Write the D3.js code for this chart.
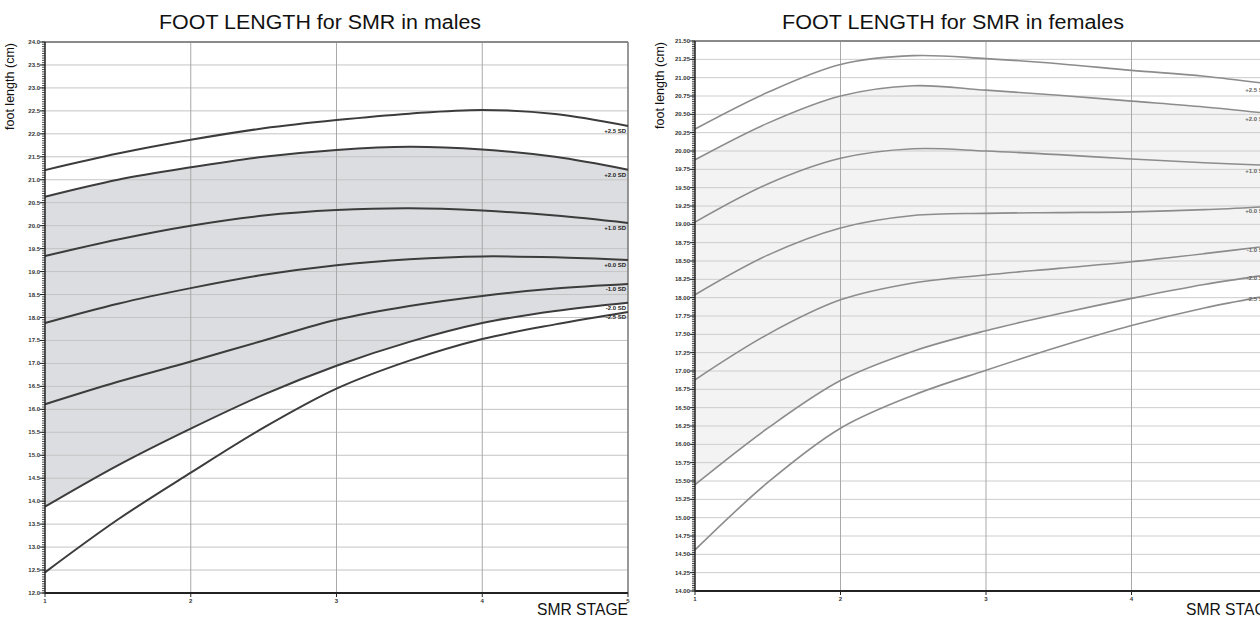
<!DOCTYPE html>
<html>
<head>
<meta charset="utf-8">
<script src="https://cdn.jsdelivr.net/npm/d3@7"></script>
<style>
  body { margin: 0; background: #fff; }
  svg { display: block; font-family: "Liberation Sans", Arial, sans-serif; }
</style>
</head>
<body>
<svg id="chart" width="1260" height="619"></svg>
<script>
const smrStages = [1, 1.5, 2, 2.5, 3, 3.5, 4, 4.5, 5];
const stageTicks = [1, 2, 3, 4, 5];
const sdLabels = ["+2.5 SD", "+2.0 SD", "+1.0 SD", "+0.0 SD", "-1.0 SD", "-2.0 SD", "-2.5 SD"];

// males, foot length (cm)
const maleP25 = [21.21, 21.57, 21.87, 22.12, 22.30, 22.44, 22.52, 22.43, 22.17];
const maleP20 = [20.63, 21.00, 21.27, 21.50, 21.65, 21.72, 21.66, 21.50, 21.22];
const maleP10 = [19.34, 19.70, 20.00, 20.22, 20.34, 20.38, 20.33, 20.22, 20.06];
const maleM00 = [17.88, 18.30, 18.64, 18.93, 19.14, 19.27, 19.33, 19.31, 19.25];
const maleN10 = [16.11, 16.60, 17.04, 17.50, 17.95, 18.25, 18.47, 18.63, 18.73];
const maleN20 = [13.88, 14.78, 15.58, 16.32, 16.95, 17.47, 17.88, 18.14, 18.32];
const maleN25 = [12.45, 13.60, 14.62, 15.60, 16.45, 17.06, 17.53, 17.85, 18.12];

// females, foot length (cm)
const femaleP25 = [20.30, 20.80, 21.18, 21.30, 21.26, 21.19, 21.10, 21.02, 20.90];
const femaleP20 = [19.88, 20.38, 20.75, 20.89, 20.83, 20.76, 20.68, 20.60, 20.50];
const femaleP10 = [19.03, 19.55, 19.90, 20.03, 20.00, 19.95, 19.89, 19.84, 19.80];
const femaleM00 = [18.04, 18.58, 18.95, 19.12, 19.15, 19.16, 19.17, 19.20, 19.25];
const femaleN10 = [16.88, 17.50, 17.97, 18.20, 18.31, 18.40, 18.49, 18.60, 18.72];
const femaleN20 = [15.45, 16.22, 16.87, 17.27, 17.55, 17.78, 17.99, 18.18, 18.33];
const femaleN25 = [14.56, 15.48, 16.22, 16.67, 17.01, 17.33, 17.62, 17.86, 18.05];

const svg = d3.select('#chart')

function drawPanel(opt) {
    let g = svg.append('g')
    let x = d3.scaleLinear().domain([1, 5]).range([opt.left, opt.right])
    let y = d3.scaleLinear().domain(opt.yDomain).range([opt.bottom, opt.top])

    let majors = d3.range(opt.yDomain[0], opt.yDomain[1] + 1e-9, opt.yStep)
    let minors = d3.range(opt.yDomain[0], opt.yDomain[1] + 1e-9, opt.yMinor)

    // shaded band between +2 and -2 SD
    let band = d3.area()
        .x((d, i) => x(smrStages[i]))
        .y0((d, i) => y(opt.series[5][i]))
        .y1(d => y(d))
        .curve(d3.curveCatmullRom.alpha(0.5))
    g.append('path')
        .datum(opt.series[1])
        .attr('d', band)
        .attr('fill', opt.bandColor)

    // horizontal grid
    g.append('g').selectAll('line')
        .data(majors.slice(1, -1))
        .enter().append('line')
        .attr('x1', opt.left).attr('x2', opt.right)
        .attr('y1', d => y(d)).attr('y2', d => y(d))
        .attr('stroke', opt.gridColor)
        .attr('stroke-width', 1)

    // vertical grid
    g.append('g').selectAll('line')
        .data(stageTicks.slice(1, -1))
        .enter().append('line')
        .attr('x1', d => x(d)).attr('x2', d => x(d))
        .attr('y1', opt.top).attr('y2', opt.bottom)
        .attr('stroke', '#a9a9a9')
        .attr('stroke-width', 1)

    // frame: top and right
    g.append('line')
        .attr('x1', opt.left).attr('x2', opt.right)
        .attr('y1', opt.top).attr('y2', opt.top)
        .attr('stroke', '#8a8a8a').attr('stroke-width', 2)
    g.append('line')
        .attr('x1', opt.right).attr('x2', opt.right)
        .attr('y1', opt.top).attr('y2', opt.bottom)
        .attr('stroke', '#777').attr('stroke-width', 1.5)

    // curves
    let line = d3.line()
        .x((d, i) => x(smrStages[i]))
        .y(d => y(d))
        .curve(d3.curveCatmullRom.alpha(0.5))
    g.append('g').selectAll('path')
        .data(opt.series)
        .enter().append('path')
        .attr('d', line)
        .attr('fill', 'none')
        .attr('stroke', opt.lineColor)
        .attr('stroke-width', opt.lineWidth)

    // curve labels at the right end
    g.append('g').selectAll('text')
        .data(opt.series)
        .enter().append('text')
        .attr('x', x(5) - opt.labelPad)
        .attr('y', d => y(d[d.length - 1]) + 7)
        .attr('text-anchor', 'end')
        .style('font-size', '6px')
        .style('font-weight', 'bold')
        .attr('fill', opt.labelColor)
        .text((d, i) => sdLabels[i])

    // y axis with minor ticks
    let yAxis = g.append('g')
    yAxis.selectAll('line.minor')
        .data(minors)
        .enter().append('line')
        .attr('class', 'minor')
        .attr('x1', opt.left - 3).attr('x2', opt.left)
        .attr('y1', d => y(d)).attr('y2', d => y(d))
        .attr('stroke', '#222').attr('stroke-width', 0.8)
    yAxis.selectAll('line.major')
        .data(majors)
        .enter().append('line')
        .attr('class', 'major')
        .attr('x1', opt.left - 5).attr('x2', opt.left)
        .attr('y1', d => y(d)).attr('y2', d => y(d))
        .attr('stroke', '#222').attr('stroke-width', 1)
    yAxis.selectAll('text')
        .data(majors)
        .enter().append('text')
        .attr('x', opt.left - 5)
        .attr('y', d => y(d) + 2)
        .attr('text-anchor', 'end')
        .style('font-size', '6px')
        .style('font-weight', 'bold')
        .attr('fill', '#333')
        .text(d => d3.format(opt.yFormat)(d))
    yAxis.append('line')
        .attr('x1', opt.left).attr('x2', opt.left)
        .attr('y1', opt.top).attr('y2', opt.bottom)
        .attr('stroke', '#222').attr('stroke-width', 1.5)

    // x axis
    let xAxis = g.append('g')
    xAxis.append('line')
        .attr('x1', opt.left).attr('x2', opt.right)
        .attr('y1', opt.bottom).attr('y2', opt.bottom)
        .attr('stroke', '#222').attr('stroke-width', 2)
    xAxis.selectAll('line.tick')
        .data(stageTicks)
        .enter().append('line')
        .attr('class', 'tick')
        .attr('x1', d => x(d)).attr('x2', d => x(d))
        .attr('y1', opt.bottom).attr('y2', opt.bottom + 4)
        .attr('stroke', '#222').attr('stroke-width', 1)
    xAxis.selectAll('text')
        .data(stageTicks)
        .enter().append('text')
        .attr('x', d => x(d))
        .attr('y', opt.bottom + 10)
        .attr('text-anchor', 'middle')
        .style('font-size', '6px')
        .style('font-weight', 'bold')
        .attr('fill', '#333')
        .text(d => d)

    // titles
    g.append('text')
        .attr('x', opt.titleX)
        .attr('y', 29)
        .attr('text-anchor', 'middle')
        .attr('textLength', opt.titleLen)
        .attr('lengthAdjust', 'spacingAndGlyphs')
        .style('font-size', '20px')
        .attr('fill', '#111')
        .text(opt.title)
    g.append('text')
        .attr('x', x(5))
        .attr('y', 615)
        .attr('text-anchor', 'end')
        .attr('textLength', 91)
        .attr('lengthAdjust', 'spacingAndGlyphs')
        .style('font-size', '17px')
        .attr('fill', '#111')
        .text('SMR STAGE')
    g.append('text')
        .attr('transform', 'translate(' + (opt.left - 31) + ',' + (opt.top + 1) + ') rotate(-90)')
        .attr('text-anchor', 'end')
        .attr('textLength', 87)
        .attr('lengthAdjust', 'spacingAndGlyphs')
        .style('font-size', '13px')
        .attr('fill', '#111')
        .text('foot length (cm)')
}

drawPanel({
    left: 45, right: 628, top: 42, bottom: 593,
    yDomain: [12, 24], yStep: 0.5, yMinor: 0.05, yFormat: '.1f',
    series: [maleP25, maleP20, maleP10, maleM00, maleN10, maleN20, maleN25],
    bandColor: '#dcdde0', gridColor: '#c4c4c4',
    lineColor: '#3c3c3c', lineWidth: 2, labelColor: '#222', labelPad: 2,
    title: 'FOOT LENGTH for SMR in males', titleX: 320, titleLen: 322
})

drawPanel({
    left: 695, right: 1277, top: 41, bottom: 591,
    yDomain: [14, 21.5], yStep: 0.25, yMinor: 0.025, yFormat: '.2f',
    series: [femaleP25, femaleP20, femaleP10, femaleM00, femaleN10, femaleN20, femaleN25],
    bandColor: '#f3f3f3', gridColor: '#cdcdcd',
    lineColor: '#8c8c8c', lineWidth: 1.6, labelColor: '#666', labelPad: 10,
    title: 'FOOT LENGTH for SMR in females', titleX: 953, titleLen: 342
})
</script>
</body>
</html>
